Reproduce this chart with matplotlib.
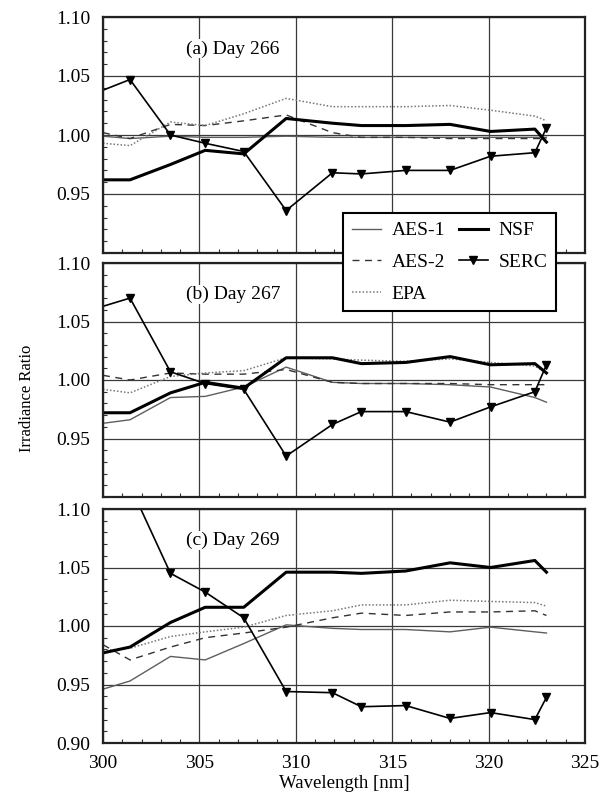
import matplotlib
matplotlib.use("Agg")
import matplotlib.pyplot as plt
from matplotlib.ticker import MultipleLocator, FixedLocator

plt.rcParams['font.family'] = ['Liberation Serif', 'DejaVu Serif']

# Wavelength sampling points [nm]
wavelength = [300.0, 301.4, 303.5, 305.3, 307.3, 309.5, 311.9, 313.4, 315.7, 318.0, 320.1, 322.4, 323.0]

# Day 266 irradiance ratios
aes1_266 = [0.999, 0.997, 0.999, 0.998, 0.998, 0.999, 0.998, 0.998, 0.998, 0.998, 0.998, 0.998, 0.998]
aes2_266 = [1.002, 0.997, 1.009, 1.008, 1.012, 1.017, 1.002, 0.998, 0.998, 0.997, 0.997, 0.997, 0.997]
epa_266 = [0.993, 0.991, 1.011, 1.008, 1.018, 1.031, 1.024, 1.024, 1.024, 1.025, 1.021, 1.016, 1.012]
nsf_266 = [0.962, 0.962, 0.975, 0.987, 0.984, 1.014, 1.010, 1.008, 1.008, 1.009, 1.003, 1.005, 0.994]
serc_266 = [1.038, 1.047, 1.000, 0.993, 0.986, 0.936, 0.968, 0.967, 0.970, 0.970, 0.982, 0.985, 1.006]

# Day 267 irradiance ratios
aes1_267 = [0.963, 0.966, 0.985, 0.986, 0.994, 1.011, 0.998, 0.997, 0.997, 0.996, 0.994, 0.985, 0.981]
aes2_267 = [1.004, 1.000, 1.006, 1.005, 1.005, 1.009, 0.998, 0.997, 0.997, 0.997, 0.996, 0.996, 0.996]
epa_267 = [0.992, 0.989, 1.003, 1.006, 1.008, 1.019, 1.018, 1.017, 1.016, 1.018, 1.015, 1.012, 1.006]
nsf_267 = [0.972, 0.972, 0.989, 0.998, 0.993, 1.019, 1.019, 1.014, 1.015, 1.020, 1.013, 1.014, 1.006]
serc_267 = [1.063, 1.070, 1.007, 0.997, 0.992, 0.935, 0.962, 0.973, 0.973, 0.964, 0.977, 0.990, 1.013]

# Day 269 irradiance ratios
aes1_269 = [0.946, 0.953, 0.974, 0.971, 0.985, 1.001, 0.998, 0.997, 0.997, 0.995, 0.999, 0.995, 0.994]
aes2_269 = [0.984, 0.971, 0.982, 0.990, 0.994, 0.999, 1.007, 1.011, 1.009, 1.012, 1.012, 1.013, 1.009]
epa_269 = [0.979, 0.981, 0.991, 0.995, 0.999, 1.009, 1.013, 1.018, 1.018, 1.022, 1.021, 1.020, 1.017]
nsf_269 = [0.977, 0.982, 1.003, 1.016, 1.016, 1.046, 1.046, 1.045, 1.047, 1.054, 1.050, 1.056, 1.046]
serc_269 = [1.160, 1.120, 1.045, 1.029, 1.007, 0.944, 0.943, 0.931, 0.932, 0.921, 0.926, 0.920, 0.939]

panel_titles = ["(a) Day 266", "(b) Day 267", "(c) Day 269"]
series_names = ["AES-1", "AES-2", "EPA", "NSF", "SERC"]

panels = [
    (aes1_266, aes2_266, epa_266, nsf_266, serc_266),
    (aes1_267, aes2_267, epa_267, nsf_267, serc_267),
    (aes1_269, aes2_269, epa_269, nsf_269, serc_269),
]

styles = [
    dict(color='#5e5e5e', lw=1.0, ls='-'),
    dict(color='#333333', lw=1.0, ls=(0, (5, 4))),
    dict(color='#777777', lw=1.1, ls=(0, (1, 1.3))),
    dict(color='black', lw=2.2, ls='-'),
    dict(color='black', lw=1.2, ls='-', marker='v', ms=5.5, markevery=slice(1, None)),
]

fig = plt.figure(figsize=(6.02, 7.96), dpi=100)

W, H = 602.0, 796.0
left, right = 103 / W, 585 / W
rows = [(17, 253), (263, 497), (509, 743)]

handles = []
for i, ((top_px, bot_px), data, title) in enumerate(zip(rows, panels, panel_titles)):
    ax = fig.add_axes([left, 1 - bot_px / H, right - left, (bot_px - top_px) / H])
    ax.set_xlim(300, 325)
    ax.set_ylim(0.90, 1.10)
    ax.grid(True, which='major', color='#3a3a3a', lw=0.9)
    ax.set_axisbelow(True)
    for vals, st, name in zip(data, styles, series_names):
        ln, = ax.plot(wavelength, vals, label=name, **st)
        if i == 0:
            handles.append(ln)
    ax.xaxis.set_major_locator(MultipleLocator(5))
    ax.xaxis.set_minor_locator(MultipleLocator(1))
    if i < 2:
        ax.yaxis.set_major_locator(FixedLocator([0.95, 1.00, 1.05, 1.10]))
        ax.tick_params(axis='x', labelbottom=False)
    else:
        ax.yaxis.set_major_locator(FixedLocator([0.90, 0.95, 1.00, 1.05, 1.10]))
    ax.yaxis.set_minor_locator(MultipleLocator(0.01))
    ax.yaxis.set_major_formatter(plt.FuncFormatter(lambda v, p: f"{v:.2f}"))
    ax.tick_params(which='both', direction='in', top=False, right=False,
                   labelsize=14, color='#333333')
    ax.tick_params(which='major', length=0)
    ax.tick_params(axis='y', which='major', pad=9)
    ax.tick_params(axis='x', which='major', pad=9)
    ax.tick_params(which='minor', length=3, width=0.8)
    for s in ax.spines.values():
        s.set_linewidth(1.6)
        s.set_color('#222222')
    ax.text(304.3, 1.073, title, fontsize=14, ha='left', va='center',
            bbox=dict(facecolor='white', edgecolor='none', pad=0.5))
    if i == 2:
        ax.set_xlabel("Wavelength [nm]", fontsize=13.5, labelpad=2)

fig.text(0.045, 0.5, "Irradiance Ratio", rotation=90, fontsize=12,
         ha='center', va='center')

leg = fig.legend(handles=handles, labels=series_names, ncol=2,
                 loc='upper left', bbox_to_anchor=(343 / W, 1 - 213 / H),
                 bbox_transform=fig.transFigure, borderaxespad=0,
                 fontsize=14, frameon=True, fancybox=False, framealpha=1,
                 edgecolor='black', handlelength=1.5, columnspacing=0.7,
                 handletextpad=0.55, labelspacing=0.72, borderpad=0.45)
leg.get_frame().set_linewidth(1.5)

fig.savefig("out.png", dpi=100)
